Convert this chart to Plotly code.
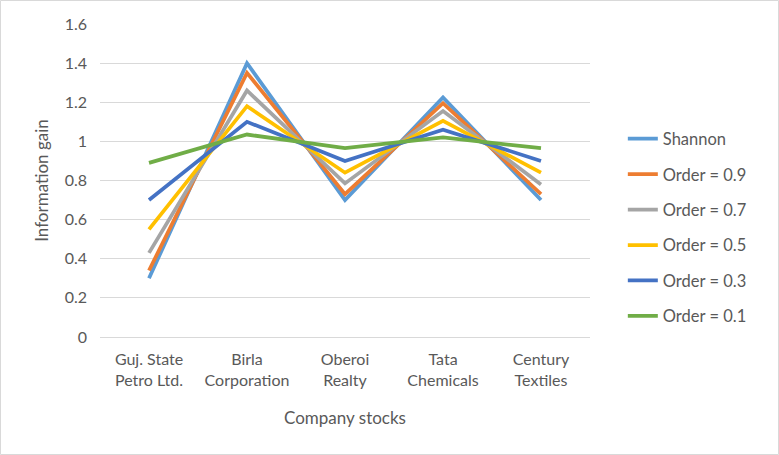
import plotly.graph_objects as go

categories = ["Guj. State<br>Petro Ltd.", "Birla<br>Corporation", "Oberoi<br>Realty", "Tata<br>Chemicals", "Century<br>Textiles"]
series_names = ["Shannon", "Order = 0.9", "Order = 0.7", "Order = 0.5", "Order = 0.3", "Order = 0.1"]
shannon = [0.30, 1.40, 0.70, 1.225, 0.70]
order_09 = [0.34, 1.35, 0.73, 1.195, 0.73]
order_07 = [0.43, 1.26, 0.785, 1.155, 0.78]
order_05 = [0.55, 1.18, 0.84, 1.105, 0.84]
order_03 = [0.70, 1.10, 0.90, 1.06, 0.90]
order_01 = [0.89, 1.035, 0.965, 1.02, 0.965]
all_values = [shannon, order_09, order_07, order_05, order_03, order_01]
colors = ["#5B9BD5", "#ED7D31", "#A5A5A5", "#FFC000", "#4472C4", "#70AD47"]

fig = go.Figure()
for i, (name, vals) in enumerate(zip(series_names, all_values)):
    fig.add_trace(go.Scatter(
        x=categories, y=vals, name=name, mode="lines",
        line=dict(color=colors[i], width=3.75),
        legendgroup=name,
    ))

W, H = 779, 455
ml, mr, mt, mb = 100, 189, 24, 118
pw, ph = W - ml - mr, H - mt - mb

font_fam = "Lato, Liberation Sans, Arial, sans-serif"
txt = "#595959"
fig.update_layout(
    width=W, height=H,
    margin=dict(l=ml, r=mr, t=mt, b=mb),
    paper_bgcolor="white", plot_bgcolor="white",
    font=dict(family=font_fam, color=txt, size=16),
    showlegend=True,
    legend=dict(x=1.067, y=0.35, xanchor="left", yanchor="middle",
                font=dict(size=16.5, color=txt), tracegroupgap=11,
                bgcolor="rgba(0,0,0,0)"),
    xaxis=dict(title=dict(text="Company stocks", font=dict(size=17, color=txt), standoff=24),
               showgrid=False, showline=True, linecolor="#D9D9D9", linewidth=1,
               tickfont=dict(size=16, color=txt), ticks="", ticklabelstandoff=8,
               range=[-0.5, 4.5]),
    yaxis=dict(title=dict(text="Information gain", font=dict(size=17, color=txt), standoff=11),
               range=[0, 1.6], dtick=0.2, tick0=0, showgrid=True, gridcolor="#D9D9D9",
               gridwidth=1, zeroline=False, showline=False, ticks="", ticklabelstandoff=12,
               tickfont=dict(size=16, color=txt)),
    shapes=[dict(type="rect", xref="paper", yref="paper",
                 x0=-ml / pw + 0.5 / pw, x1=(W - ml - 0.5) / pw,
                 y0=-(mb - 0.5) / ph, y1=(H - mb - 0.5) / ph,
                 line=dict(color="#D9D9D9", width=1), layer="below")],
)

fig.write_html("out.html", config={"displayModeBar": False},
               post_script="document.body.style.margin='0';document.body.style.overflow='hidden';")
